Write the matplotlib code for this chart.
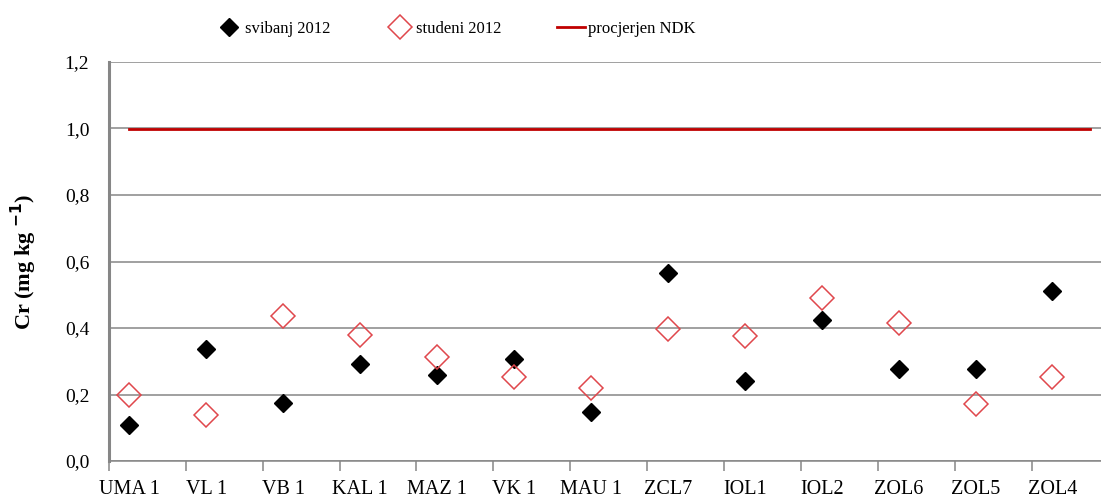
import matplotlib
matplotlib.use('Agg')
import matplotlib.pyplot as plt
import matplotlib.ticker as ticker
import numpy as np

sites = ['UMA 1', 'VL 1', 'VB 1', 'KAL 1', 'MAZ 1', 'VK 1', 'MAU 1',
         'ZCL7', 'IOL1', 'IOL2', 'ZOL6', 'ZOL5', 'ZOL4']
svibanj = [0.108, 0.338, 0.173, 0.293, 0.260, 0.306, 0.146,
           0.565, 0.242, 0.424, 0.276, 0.277, 0.510]
studeni = [0.198, 0.139, 0.436, 0.380, 0.313, 0.254, 0.219,
           0.396, 0.376, 0.491, 0.414, 0.171, 0.254]
ndk_value = 1.0
ndk_span = [0.266, 12.754]   # x-range of the NDK line, category units

plt.rcParams['font.family'] = ['Liberation Serif', 'DejaVu Serif']

fig = plt.figure(figsize=(11.01, 4.99), dpi=100)
ax = fig.add_axes([108.7 / 1101, 38 / 499, (1101 - 108.7) / 1101, 399 / 499])

x = np.arange(len(sites)) + 0.266
grid_c = '#868686'

ax.plot(x, svibanj, ls='None', marker='D', ms=9.2, color='black',
        label='svibanj 2012', zorder=4)
ax.plot(x, studeni, ls='None', marker='D', ms=11.8, mfc='none',
        mec='#E0474C', mew=1.1, label='studeni 2012', zorder=5)
ax.plot(ndk_span, [ndk_value, ndk_value], color='#C00000', lw=2,
        label='procjerjen NDK', zorder=3)

ax.set_ylim(0, 1.2)
ax.set_xlim(0, (1101 - 108.7) / 76.94)
ax.yaxis.set_major_locator(ticker.MultipleLocator(0.2))
ax.yaxis.set_major_formatter(ticker.FuncFormatter(lambda v, p: f'{v:.1f}'.replace('.', ',')))
ax.grid(axis='y', color=grid_c, lw=1.1)
ax.set_axisbelow(True)

# category boundaries as ticks, labels at the points
ax.set_xticks(np.arange(len(sites)))
ax.set_xticklabels([])
ax.set_xticks(x, minor=True)
ax.set_xticklabels(sites, minor=True, fontsize=14.5)
ax.tick_params(axis='x', which='major', length=7, width=1.1, color=grid_c)
ax.tick_params(axis='x', which='minor', length=0, pad=14)
ax.tick_params(axis='y', length=0, labelsize=14, pad=14)

for s in ['top', 'right']:
    ax.spines[s].set_visible(False)
ax.spines['left'].set_color(grid_c)
ax.spines['left'].set_linewidth(2.2)
ax.spines['bottom'].set_color(grid_c)
ax.spines['bottom'].set_linewidth(1.1)

ax.set_ylabel('Cr (mg kg $^{\\mathbf{-1}}$)', fontsize=16, fontweight='bold')
ax.yaxis.set_label_coords(-0.07, 0.5)

fig.legend(loc='center left', bbox_to_anchor=(206 / 1101, 1 - 29 / 499),
           ncol=3, frameon=False, fontsize=12, handlelength=1.7,
           handletextpad=0.15, columnspacing=3.3, borderpad=0)

fig.savefig('out.png', dpi=100)
